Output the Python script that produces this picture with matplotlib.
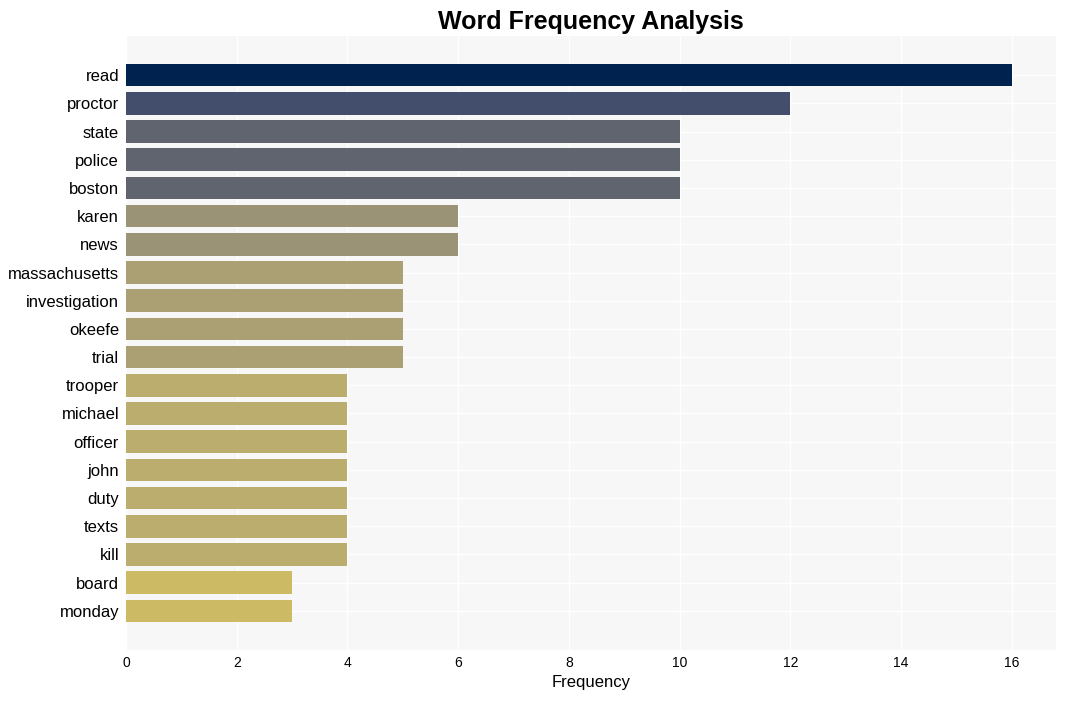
import numpy as np
import matplotlib
matplotlib.use("Agg")
import matplotlib.pyplot as plt
from matplotlib.colors import Normalize

# data (top to bottom)
WORDS = ["read", "proctor", "state", "police", "boston", "karen", "news",
         "massachusetts", "investigation", "okeefe", "trial", "trooper",
         "michael", "officer", "john", "duty", "texts", "kill", "board", "monday"]
COUNTS = [16, 12, 10, 10, 10, 6, 6, 5, 5, 5, 5, 4, 4, 4, 4, 4, 4, 4, 3, 3]

plt.rcParams["font.family"] = ["Liberation Sans", "DejaVu Sans"]

fig = plt.figure(figsize=(10.65, 7.01), dpi=100)
ax = fig.add_axes([126 / 1065, 51 / 701, 930 / 1065, 614 / 701])
ax.set_facecolor("#f7f7f7")

norm = Normalize(vmin=0, vmax=max(COUNTS))
cmap = plt.get_cmap("cividis_r")
colors = [cmap(norm(c)) for c in COUNTS]

y = np.arange(len(WORDS))
ax.barh(y, COUNTS, height=0.8, color=colors, zorder=2)
ax.set_yticks(y)
ax.set_yticklabels(WORDS, fontsize=12)
ax.invert_yaxis()

ax.set_xticks(range(0, 17, 2))
ax.tick_params(axis="x", labelsize=10, pad=4)
ax.tick_params(axis="y", pad=5)
ax.tick_params(length=0)
ax.grid(color="white", lw=1.0, zorder=0)
ax.set_axisbelow(True)
for s in ax.spines.values():
    s.set_visible(False)

ax.set_xlabel("Frequency", fontsize=12)
ax.set_title("Word Frequency Analysis", fontsize=18, fontweight="bold", pad=5)

fig.savefig("out.png", dpi=100)
